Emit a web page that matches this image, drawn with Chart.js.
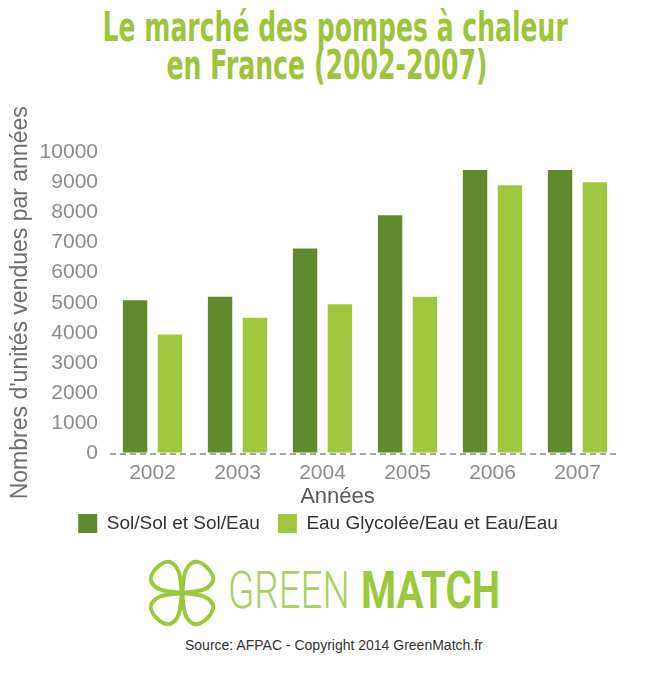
<!DOCTYPE html>
<html><head><meta charset="utf-8">
<script src="https://cdn.jsdelivr.net/npm/chart.js@4.4.0/dist/chart.umd.min.js"></script>
<style>
html,body{margin:0;padding:0;background:#fff;width:669px;height:673px;overflow:hidden;position:relative;font-family:"Liberation Sans",Arial,sans-serif;}
.t{position:absolute;left:-7px;width:669px;text-align:center;color:#9dc43b;font-family:"Liberation Sans Narrow","DejaVu Sans Condensed",sans-serif;font-weight:bold;font-size:41px;line-height:41px;white-space:nowrap;}
.t span,.logo span{display:inline-block;transform-origin:0 50%;}
.t span{transform-origin:50% 50%;}
#c{position:absolute;left:0;top:0;}
.logo{position:absolute;top:565px;font-family:Roboto,"Liberation Sans",sans-serif;font-size:52px;line-height:52px;white-space:nowrap;}
#g{left:228px;color:#a9d05b;font-weight:300;}
#m{left:361px;color:#9cc93b;font-weight:bold;}
#clover{position:absolute;left:149px;top:559px;}
#src{position:absolute;left:185px;top:637px;font-size:14px;line-height:16px;color:#333;white-space:nowrap;}
</style></head>
<body>
<div class="t" style="top:7px"><span id="t1">Le marché des pompes à chaleur</span></div>
<div class="t" style="top:45px"><span id="t2">en France (2002-2007)</span></div>
<canvas id="c" width="634" height="543"></canvas>
<svg id="clover" width="66" height="68" viewBox="-33 -34 66 68">
  <g fill="none" stroke="#9cc93b" stroke-width="4" stroke-linejoin="round">
    <path d="M0,0 C-6,-9 -17,-17 -14,-29 C-11,-38 11,-38 14,-29 C17,-17 6,-9 0,0 Z" transform="rotate(-45)"/>
    <path d="M0,0 C-6,-9 -17,-17 -14,-29 C-11,-38 11,-38 14,-29 C17,-17 6,-9 0,0 Z" transform="rotate(45)"/>
    <path d="M0,0 C-6,-9 -17,-17 -14,-29 C-11,-38 11,-38 14,-29 C17,-17 6,-9 0,0 Z" transform="rotate(135)"/>
    <path d="M0,0 C-6,-9 -17,-17 -14,-29 C-11,-38 11,-38 14,-29 C17,-17 6,-9 0,0 Z" transform="rotate(225)"/>
  </g>
</svg>
<div class="logo" id="g"><span id="gs">GREEN</span></div>
<div class="logo" id="m"><span id="ms">MATCH</span></div>
<div id="src"><span id="ss">Source: AFPAC - Copyright 2014 GreenMatch.fr</span></div>
<script>
// ---- data ----
const years = ['2002', '2003', '2004', '2005', '2006', '2007'];
const solSol = [5080, 5200, 6800, 7900, 9400, 9400];
const eauGlycolee = [3950, 4500, 4950, 5200, 8900, 9000];
const seriesNames = ['Sol/Sol et Sol/Eau', 'Eau Glycolée/Eau et Eau/Eau'];
const yMin = 0, yMax = 10000, yStep = 1000;
const xTitle = 'Années';
const yTitle = "Nombres d'unités vendues par années";

function fitWidth(id, w) {
  const el = document.getElementById(id);
  const cw = el.offsetWidth;
  if (cw > 0) el.style.transform = 'scaleX(' + (w / cw) + ')';
}
fitWidth('t1', 465);
fitWidth('t2', 321);
fitWidth('gs', 122);
fitWidth('ms', 139);
fitWidth('ss', 315);

Chart.defaults.font.family = "'Liberation Sans', Arial, sans-serif";
new Chart(document.getElementById('c'), {
  type: 'bar',
  data: {
    labels: years,
    datasets: [
      { label: seriesNames[0], data: solSol, backgroundColor: '#61892e', borderWidth: 0, barPercentage: 0.70, categoryPercentage: 0.82 },
      { label: seriesNames[1], data: eauGlycolee, backgroundColor: '#a0c63d', borderWidth: 0, barPercentage: 0.70, categoryPercentage: 0.82 }
    ]
  },
  options: {
    responsive: false,
    animation: false,
    layout: { padding: { top: 152, left: 16, right: 14, bottom: 0 } },
    plugins: {
      tooltip: { enabled: false },
      legend: {
        position: 'bottom',
        labels: { boxWidth: 19, boxHeight: 19, padding: 18, color: '#333333', font: { size: 19 } }
      }
    },
    scales: {
      x: {
        grid: { display: false, drawTicks: false },
        border: { display: false },
        ticks: { color: '#8c8c8c', font: { size: 21, lineHeight: 1.2 }, padding: 7 },
        title: { display: true, text: xTitle + '\u00a0'.repeat(9), color: '#5a5a5a', font: { size: 22, lineHeight: 1 }, padding: { top: -6.7, bottom: -12 } }
      },
      y: {
        min: yMin, max: yMax,
        grid: {
          display: true, drawTicks: false, lineWidth: 2,
          color: (c) => (c.tick && c.tick.value === 0 ? '#a6a6a6' : 'rgba(0,0,0,0)')
        },
        border: { display: false, dash: [6, 4] },
        ticks: { stepSize: yStep, color: '#8c8c8c', font: { size: 21 }, padding: 12, callback: (v) => String(v) },
        title: { display: true, text: yTitle, color: '#6e6e6e', font: { size: 23, lineHeight: 1.2 }, padding: { top: -8.8, bottom: -7.2 } }
      }
    }
  }
});
</script>
</body></html>
